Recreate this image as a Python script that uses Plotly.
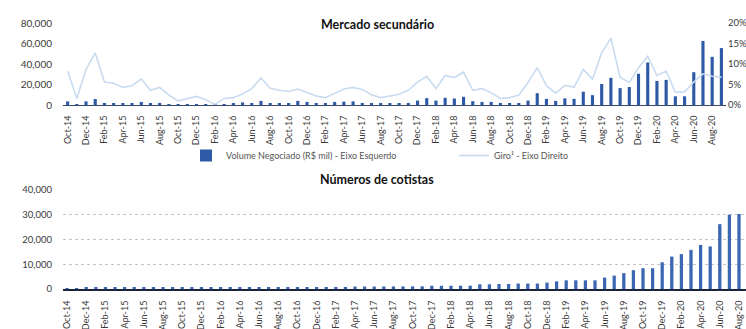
import pandas as pd
import plotly.graph_objects as go

# Monthly categories, Oct-14 .. Sep-20
months = [d.strftime("%b-%y") for d in pd.date_range("2014-10-01", "2020-09-01", freq="MS")]
tick_labels = months[::2]

# Volume negociado (R$ mil) - left axis of the upper chart
volume = [
    3500, 800, 3500, 5800, 1600, 1500, 1500, 1200, 3000, 2000, 2000, 500,
    300, 300, 400, 300, 200, 800, 1200, 2500, 1500, 4000, 1500, 1500,
    1500, 4000, 3000, 1500, 1500, 3000, 3200, 3500, 2000, 1500, 1500, 1000,
    1500, 2000, 4300, 6700, 4300, 7000, 6300, 8000, 3700, 3000, 3000, 1500,
    1800, 1200, 4300, 11500, 6000, 4000, 6500, 6000, 13000, 9600, 20500, 26500,
    16500, 17500, 30500, 41500, 23500, 24500, 8500, 8500, 32000, 62500, 47000, 55500,
]

# Giro (% a.m.) - right axis of the upper chart
giro = [
    8.3, 1.6, 8.7, 12.7, 5.6, 5.3, 4.3, 4.7, 6.4, 3.6, 4.3, 2.4,
    1.0, 1.6, 2.1, 1.3, 0.2, 1.6, 1.8, 2.7, 4.0, 6.6, 4.1, 3.6,
    3.3, 3.9, 3.0, 2.2, 1.8, 2.8, 3.9, 4.3, 3.8, 2.5, 1.8, 2.2,
    2.6, 3.6, 5.6, 7.0, 4.0, 7.2, 6.7, 8.0, 3.6, 4.0, 3.0, 1.6,
    1.8, 2.4, 5.5, 9.1, 4.7, 2.9, 4.8, 4.3, 8.7, 6.3, 12.7, 16.3,
    6.7, 5.5, 9.1, 11.9, 7.2, 8.3, 3.1, 3.2, 5.6, 7.6, 7.0, 6.8,
]

# Número de cotistas, Oct-14 .. Aug-20
cotistas = [
    400, 400, 410, 420, 430, 440, 450, 450, 460, 470, 480, 490,
    500, 700, 700, 700, 710, 720, 720, 730, 740, 750, 760, 770,
    780, 790, 800, 810, 820, 830, 1000, 1000, 1000, 1020, 1040, 1050,
    1060, 1080, 1300, 1300, 1320, 1340, 1350, 1900, 1900, 2000, 2000, 2200,
    2200, 2200, 2600, 3100, 3500, 3500, 3500, 3500, 4600, 5400, 6400, 7600,
    8400, 8400, 10800, 13100, 14100, 15800, 17800, 17200, 26200, 30000, 30300,
]

W, H = 746, 329


def fx(px):
    return px / W


def fy(py):
    return 1 - py / H


BAR_BLUE = "#2d59a6"
LINE_BLUE = "#c9dcef"
TXT = "#3a3a3a"
FONT = "Lato"

fig = go.Figure()

fig.add_trace(go.Bar(
    x=months, y=volume, name="Volume Negociado (R$ mil) - Eixo Esquerdo",
    marker=dict(color=BAR_BLUE, line=dict(width=0)),
    xaxis="x", yaxis="y",
))
fig.add_trace(go.Scatter(
    x=months, y=[g / 100 for g in giro], name="Giro¹ - Eixo Direito",
    mode="lines", line=dict(color=LINE_BLUE, width=1.6),
    xaxis="x", yaxis="y2",
))
fig.add_trace(go.Bar(
    x=months[:len(cotistas)], y=cotistas, name="Cotistas", showlegend=False,
    marker=dict(color="#3a66b2", line=dict(width=0)),
    xaxis="x3", yaxis="y3",
))

tick_font = dict(family=FONT, size=9, color=TXT)

fig.update_layout(
    width=W, height=H,
    margin=dict(l=0, r=0, t=0, b=0, autoexpand=False),
    paper_bgcolor="white", plot_bgcolor="white",
    bargap=0.66,
    font=dict(family=FONT, color=TXT),
    showlegend=True,
    legend=dict(
        orientation="h", x=fx(186), y=fy(141), xanchor="left", yanchor="top",
        font=dict(family=FONT, size=9, color="#555555"),
        entrywidth=223, entrywidthmode="pixels",
        bgcolor="rgba(0,0,0,0)", itemwidth=30,
    ),
    xaxis=dict(
        domain=[fx(63), fx(726)], anchor="y", type="category", automargin=False,
        tickmode="array", tickvals=tick_labels, ticktext=tick_labels,
        tickangle=-90, tickfont=tick_font, showgrid=False,
        showline=True, linecolor="#3b4a6b", linewidth=1, ticks="",
        ticklabelstandoff=6,
    ),
    yaxis=dict(
        domain=[fy(105), fy(23)], anchor="x", range=[0, 80000], automargin=False,
        tickvals=[0, 20000, 40000, 60000, 80000], tickformat=",",
        tickfont=dict(family=FONT, size=10, color=TXT), showgrid=False,
        zeroline=False, ticks="", ticklabelstandoff=10,
    ),
    yaxis2=dict(
        domain=[fy(105), fy(23)], anchor="x", overlaying="y", side="right",
        range=[0, 0.20], tickvals=[0, 0.05, 0.10, 0.15, 0.20], tickformat=".0%",
        automargin=False,
        tickfont=dict(family=FONT, size=9.5, color=TXT), showgrid=False,
        zeroline=False, ticks="", ticklabelstandoff=1,
    ),
    xaxis3=dict(
        domain=[fx(63), 1.0], anchor="y3", type="category", automargin=False,
        categoryorder="array", categoryarray=months,
        range=[-0.42, 70.73],
        tickmode="array", tickvals=tick_labels, ticktext=tick_labels,
        tickangle=-90, tickfont=tick_font, showgrid=False,
        showline=True, linecolor="#1c2640", linewidth=2, ticks="",
        ticklabelstandoff=6,
    ),
    yaxis3=dict(
        domain=[fy(289), fy(190)], anchor="x3", range=[0, 40000], automargin=False,
        tickvals=[0, 10000, 20000, 30000, 40000], tickformat=",",
        tickfont=dict(family=FONT, size=9.5, color=TXT),
        showgrid=True, gridcolor="#c4c4c4", griddash="dot", gridwidth=1,
        zeroline=False, ticks="", ticklabelstandoff=10,
    ),
    annotations=[
        dict(text="<b>Mercado secundário</b>", x=fx(377), y=fy(15),
             xref="paper", yref="paper", showarrow=False,
             font=dict(family=FONT, size=12.5, color="#111111")),
        dict(text="<b>Números de cotistas</b>", x=fx(377), y=fy(179),
             xref="paper", yref="paper", showarrow=False,
             font=dict(family=FONT, size=12.5, color="#111111")),
    ],
)

fig.write_html("out.html")
